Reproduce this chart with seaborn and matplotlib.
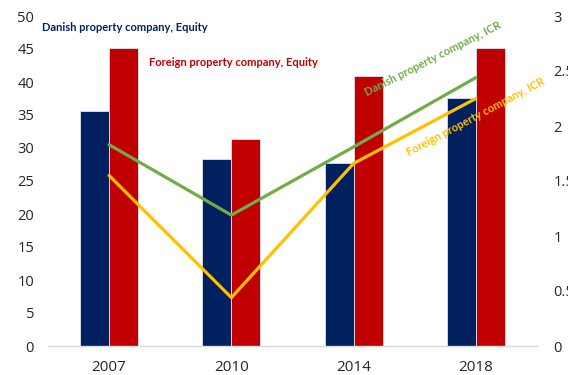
import matplotlib
matplotlib.use("Agg")
import matplotlib.pyplot as plt
import seaborn as sns
import numpy as np
import pandas as pd

years = ["2007", "2010", "2014", "2018"]
danish_equity = [35.6, 28.3, 27.7, 37.6]
foreign_equity = [45.2, 31.4, 40.9, 45.2]
danish_icr = [1.83, 1.19, 1.81, 2.44]
foreign_icr = [1.55, 0.44, 1.66, 2.25]

equity_names = ["Danish property company, Equity", "Foreign property company, Equity"]
icr_names = ["Danish property company, ICR", "Foreign property company, ICR"]

navy, red, green, gold = "#002060", "#C00000", "#70AD47", "#FFC000"

sns.set_theme(style="white")
plt.rcParams["font.family"] = ["Open Sans", "DejaVu Sans"]

eq = pd.DataFrame({
    "year": years * 2,
    "value": danish_equity + foreign_equity,
    "series": [equity_names[0]] * 4 + [equity_names[1]] * 4,
})
icr = pd.DataFrame({
    "pos": list(np.arange(len(years))) * 2,
    "value": danish_icr + foreign_icr,
    "series": [icr_names[0]] * 4 + [icr_names[1]] * 4,
})

fig = plt.figure(figsize=(5.68, 3.75), dpi=100)
ax = fig.add_axes([48 / 568, 29 / 375, 489 / 568, 330 / 375])

sns.barplot(data=eq, x="year", y="value", hue="series", order=years,
            hue_order=equity_names, palette=[navy, red], saturation=1,
            width=0.475, gap=0, edgecolor="#dde3ee", linewidth=0.6,
            legend=False, ax=ax)
ax.set_xlim(-0.5, len(years) - 0.5)
ax.set_ylim(0, 50)
ax.set_yticks(range(0, 51, 5))
ax.set_xlabel("")
ax.set_ylabel("")
for s in ["top", "right", "left"]:
    ax.spines[s].set_visible(False)
ax.spines["bottom"].set_color("#d9d9d9")
ax.spines["bottom"].set_linewidth(1.0)
ax.tick_params(axis="y", length=0, pad=10, labelsize=10.5, labelcolor="#262626")
ax.tick_params(axis="x", length=0, pad=10, labelsize=11, labelcolor="#262626")

ax2 = ax.twinx()
sns.lineplot(data=icr, x="pos", y="value", hue="series", hue_order=icr_names,
             palette=[green, gold], linewidth=2.3, legend=False, ax=ax2)
ax2.set_ylim(0, 3)
ax2.set_yticks(np.arange(0, 3.01, 0.5))
ax2.set_yticklabels(["0", "0.5", "1", "1.5", "2", "2.5", "3"])
ax2.set_xlabel("")
ax2.set_ylabel("")
for s in ["top", "right", "left", "bottom"]:
    ax2.spines[s].set_visible(False)
ax2.tick_params(axis="y", length=0, pad=12, labelsize=10.5, labelcolor="#262626")

label_font = dict(family=["Lato", "DejaVu Sans"], fontweight="bold", fontsize=8)
ax.text(-0.55, 48.3, equity_names[0], color=navy, ha="left", va="center", **label_font)
ax.text(0.33, 42.9, equity_names[1], color=red, ha="left", va="center", **label_font)
ax.text(2.65, 43.5, icr_names[0], color=green, ha="center", va="center",
        rotation=27, rotation_mode="anchor", **label_font)
ax.text(3.0, 34.7, icr_names[1], color=gold, ha="center", va="center",
        rotation=28, rotation_mode="anchor", **label_font)

fig.savefig("out.png", dpi=100)
